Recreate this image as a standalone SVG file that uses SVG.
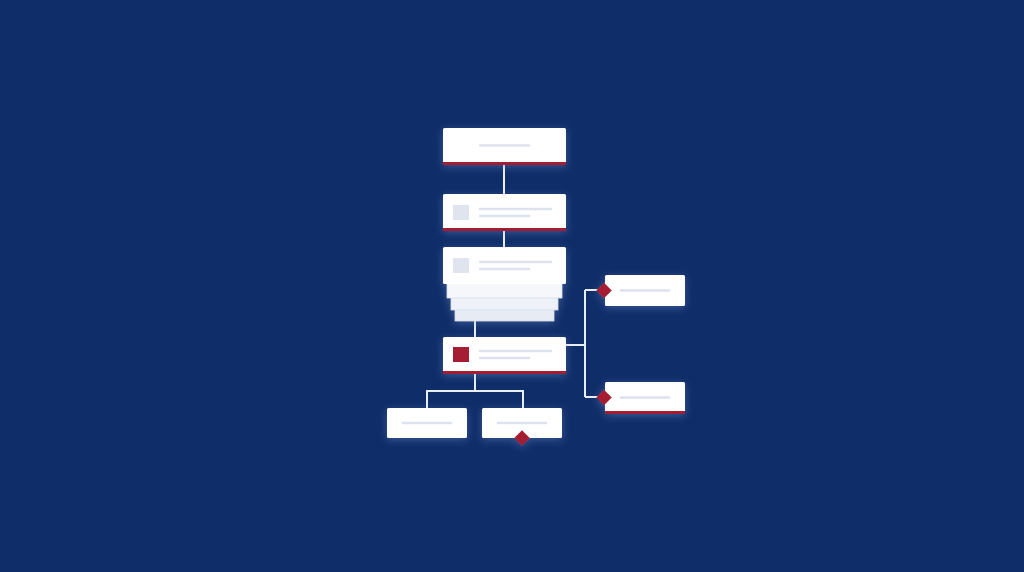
<svg xmlns="http://www.w3.org/2000/svg" width="1024" height="572" viewBox="0 0 1024 572">
<defs>
<filter id="glow" x="-30%" y="-40%" width="160%" height="180%">
<feGaussianBlur in="SourceAlpha" stdDeviation="4"/>
<feOffset dy="2" result="b"/>
<feFlood flood-color="#8aa4da" flood-opacity="0.35"/>
<feComposite in2="b" operator="in"/>
<feMerge><feMergeNode/><feMergeNode in="SourceGraphic"/></feMerge>
</filter>
</defs>
<style>
.card{fill:#ffffff}
.red{fill:#a61e30}
.ph{stroke:#dde3ee;stroke-width:2.5;stroke-linecap:round}
.ico{fill:#dfe4ef}
.conn{stroke:#e9edf4;stroke-width:2;fill:none}
.layer{stroke:#d4dbe8;stroke-width:0.8}
</style>
<rect width="1024" height="572" fill="#0f2d69"/>

<g id="connectors">
<path class="conn" d="M504 165V194"/>
<path class="conn" d="M504 230V248"/>
<path class="conn" d="M475 321V337"/>
<path class="conn" d="M566 345H585M585 290V397M585 290H600M585 397H600"/>
<path class="conn" d="M475 373V391M427 408V391H523V408"/>
</g>

<g id="node-top" filter="url(#glow)">
<rect class="card" x="443" y="128" width="123" height="37" rx="1.5"/>
<rect class="red" x="443" y="162" width="123" height="3"/>
<line class="ph" x1="480" y1="145.5" x2="529" y2="145.5"/>
</g>

<g id="node-2" filter="url(#glow)">
<rect class="card" x="443" y="194" width="123" height="37" rx="1.5"/>
<rect class="red" x="443" y="228" width="123" height="3"/>
<rect class="ico" x="453" y="205" width="16" height="15"/>
<line class="ph" x1="480" y1="209" x2="551" y2="209"/>
<line class="ph" x1="480" y1="216" x2="529" y2="216"/>
</g>

<g id="node-stack" filter="url(#glow)">
<rect class="layer" x="455" y="309" width="99" height="12" fill="#e6ebf4"/>
<rect class="layer" x="451" y="297" width="107" height="13" fill="#eef1f7"/>
<rect class="layer" x="447" y="283" width="115" height="15" fill="#f5f7fb"/>
<rect class="card" x="443" y="247" width="123" height="37" rx="1.5"/>
<rect class="ico" x="453" y="258" width="16" height="15"/>
<line class="ph" x1="480" y1="262" x2="551" y2="262"/>
<line class="ph" x1="480" y1="269" x2="529" y2="269"/>
</g>

<g id="node-4" filter="url(#glow)">
<rect class="card" x="443" y="337" width="123" height="37" rx="1.5"/>
<rect class="red" x="443" y="371" width="123" height="3"/>
<rect class="red" x="453" y="347" width="16" height="15"/>
<line class="ph" x1="480" y1="351" x2="551" y2="351"/>
<line class="ph" x1="480" y1="358" x2="529" y2="358"/>
</g>

<g id="node-right-top" filter="url(#glow)">
<rect class="card" x="605" y="275" width="80" height="31" rx="1.5"/>
<line class="ph" x1="621" y1="290.5" x2="669" y2="290.5"/>
<rect class="red" x="598.5" y="285" width="11" height="11" transform="rotate(45 604 290.5)"/>
</g>

<g id="node-right-bottom" filter="url(#glow)">
<rect class="card" x="605" y="382" width="80" height="32" rx="1.5"/>
<rect class="red" x="605" y="411" width="80" height="3"/>
<line class="ph" x1="621" y1="397.5" x2="669" y2="397.5"/>
<rect class="red" x="598.5" y="392" width="11" height="11" transform="rotate(45 604 397.5)"/>
</g>

<g id="node-bottom-left" filter="url(#glow)">
<rect class="card" x="387" y="408" width="80" height="30" rx="1.5"/>
<line class="ph" x1="403" y1="423" x2="451" y2="423"/>
</g>

<g id="node-bottom-right" filter="url(#glow)">
<rect class="card" x="482" y="408" width="80" height="30" rx="1.5"/>
<line class="ph" x1="498" y1="423" x2="546" y2="423"/>
<rect class="red" x="516.5" y="432.5" width="11" height="11" transform="rotate(45 522 438)"/>
</g>
</svg>
